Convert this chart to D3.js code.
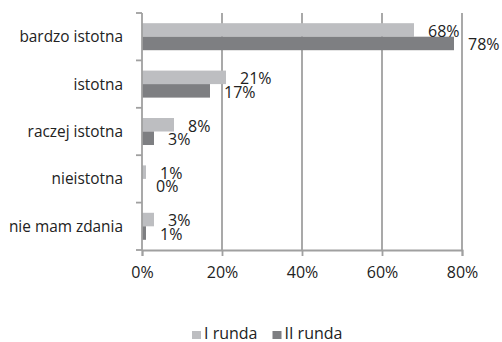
<!DOCTYPE html>
<html>
<head>
<meta charset="utf-8">
<script src="https://cdn.jsdelivr.net/npm/d3@7"></script>
<style>
  html, body { margin: 0; padding: 0; background: #fff; }
  svg text { font-family: "Open Sans", "Noto Sans", sans-serif; fill: #222; }
</style>
</head>
<body>
<svg id="chart" width="502" height="342"></svg>
<script>
// Ocena istotności – odpowiedzi w dwóch rundach (%)
const categories = ["bardzo istotna", "istotna", "raczej istotna", "nieistotna", "nie mam zdania"];
const series = ["I runda", "II runda"];
const round1 = [68, 21, 8, 1, 3];
const round2 = [78, 17, 3, 0, 1];
const xTicks = [0, 20, 40, 60, 80];

const colors = { "I runda": "#bdbec1", "II runda": "#7e7f82" };
const axisColor = "#a0a0a0";

const rows = categories.map((c, i) => ({ category: c, values: [
  { key: series[0], value: round1[i] },
  { key: series[1], value: round2[i] }
]}));

const svg = d3.select("#chart");
const plotLeft = 142, plotRight = 462, plotTop = 13, plotBottom = 250;

const x = d3.scaleLinear().domain([0, 80]).range([plotLeft, plotRight]);
const y = d3.scaleBand().domain(categories).range([plotTop, plotBottom])
  .paddingInner(0.43).paddingOuter(0.215);
const ySub = d3.scaleBand().domain(series).range([0, y.bandwidth()]);

// vertical gridlines
svg.append("g").selectAll("line")
  .data(xTicks.filter(t => t > 0))
  .join("line")
  .attr("x1", d => x(d)).attr("x2", d => x(d))
  .attr("y1", plotTop).attr("y2", plotBottom)
  .attr("stroke", axisColor).attr("stroke-width", 1.8);

// bars
const groups = svg.append("g").selectAll("g")
  .data(rows)
  .join("g")
  .attr("transform", d => `translate(0,${y(d.category)})`);

groups.selectAll("rect")
  .data(d => d.values)
  .join("rect")
  .attr("x", x(0))
  .attr("y", d => ySub(d.key))
  .attr("width", d => x(d.value) - x(0))
  .attr("height", ySub.bandwidth())
  .attr("fill", d => colors[d.key]);

groups.selectAll("text")
  .data(d => d.values)
  .join("text")
  .attr("x", d => x(d.value) + 14)
  .attr("y", d => ySub(d.key) + ySub.bandwidth() / 2 + 1)
  .attr("dy", "0.36em")
  .attr("font-size", 16)
  .text(d => d.value + "%");

// x axis
const xAxis = svg.append("g")
  .attr("transform", `translate(0,${plotBottom})`)
  .call(d3.axisBottom(x).tickValues(xTicks).tickSize(6).tickPadding(11)
    .tickFormat(d => d + "%"));
xAxis.select(".domain").attr("stroke", axisColor).attr("stroke-width", 1.8);
xAxis.selectAll(".tick line").attr("stroke", axisColor).attr("stroke-width", 1.8);
xAxis.selectAll("text").attr("font-size", 16).attr("fill", "#222")
  .attr("font-family", "'Open Sans', 'Noto Sans', sans-serif");

// y axis with ticks at category boundaries
const yg = svg.append("g");
yg.append("line")
  .attr("x1", plotLeft).attr("x2", plotLeft).attr("y1", plotTop).attr("y2", plotBottom)
  .attr("stroke", axisColor).attr("stroke-width", 1.8);
yg.selectAll("line.tick")
  .data(d3.range(categories.length + 1))
  .join("line")
  .attr("class", "tick")
  .attr("x1", plotLeft - 6).attr("x2", plotLeft)
  .attr("y1", i => plotTop + i * y.step()).attr("y2", i => plotTop + i * y.step())
  .attr("stroke", axisColor).attr("stroke-width", 1.8);
yg.selectAll("text")
  .data(categories)
  .join("text")
  .attr("x", 123)
  .attr("y", d => y(d) + y.bandwidth() / 2)
  .attr("dy", "0.36em")
  .attr("text-anchor", "end")
  .attr("font-size", 15.4)
  .text(d => d);

// legend
const legendX = [192, 272.5];
const legend = svg.append("g").selectAll("g")
  .data(series)
  .join("g")
  .attr("transform", (d, i) => `translate(${legendX[i]},331)`);
legend.append("rect")
  .attr("width", 9).attr("height", 8)
  .attr("fill", d => colors[d]);
legend.append("text")
  .attr("x", 12).attr("y", 7.5)
  .attr("font-size", 16)
  .text(d => d);
</script>
</body>
</html>
